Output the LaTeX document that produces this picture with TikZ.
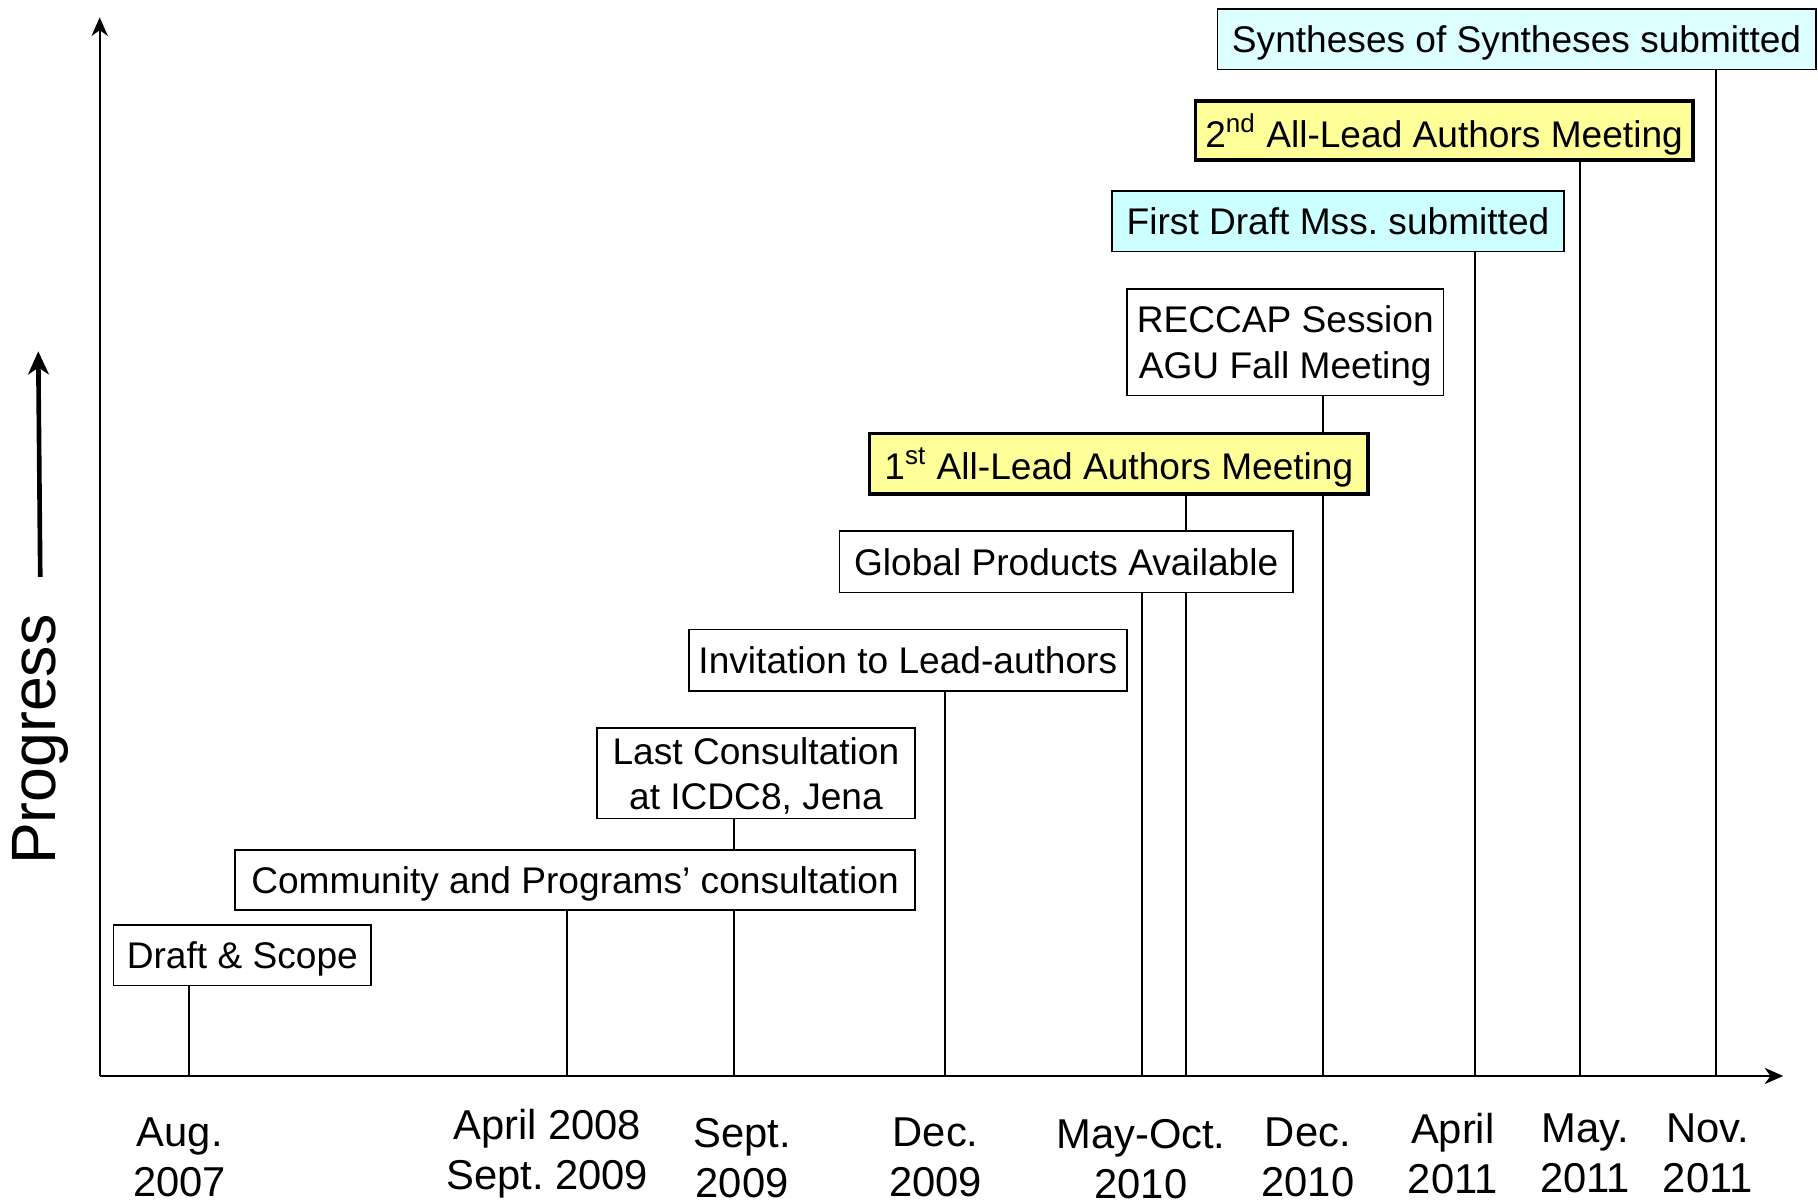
\documentclass[tikz,border=0pt]{standalone}
\usepackage{fontspec}
\setmainfont{Liberation Sans}
\usetikzlibrary{arrows.meta}
\frenchspacing
\definecolor{meetfill}{HTML}{FFFF99}
\definecolor{subfill}{HTML}{CCFFFF}
\definecolor{synfill}{HTML}{DDFFFF}
\tikzset{
  event/.style={draw, line width=0.75pt, fill=white, inner sep=0pt, align=center,
    text depth=0pt, font=\fontsize{16}{19.5}\selectfont},
  meeting/.style={event, fill=meetfill, line width=1.6pt},
  submitted/.style={event, fill=subfill},
  datelabel/.style={align=center, inner sep=0pt, font=\fontsize{18}{21.5}\selectfont},
  tick/.style={line width=0.75pt},
  axis/.style={line width=1pt, -{Stealth[length=8pt,width=7pt,inset=2.5pt]}},
}

\begin{document}
\begin{tikzpicture}[x=0.5pt,y=-0.5pt]
  %%%%% START %%%%%
  \useasboundingbox (0,0) rectangle (1568,1038);

  % axes
  \coordinate (o) at (86,928);
  \coordinate (ytop) at (86,15);
  \coordinate (xend) at (1538,928);
  \draw[axis] (o) -- (ytop);
  \draw[axis] (o) -- (xend);

  \node[rotate=90, inner sep=0pt, font=\fontsize{27}{30}\selectfont] (prog) at (35,638) {Progress};
  \coordinate (progtip) at (33,303);
  \draw[line width=2pt, -{Stealth[length=10pt,width=9pt,inset=3pt]}, shorten <=16pt] (prog.east) -- (progtip);

  % tick positions on the time axis
  \coordinate (a1) at (163,928);
  \coordinate (a2) at (489,928);
  \coordinate (a3) at (633,928);
  \coordinate (a4) at (815,928);
  \coordinate (a5) at (985,928);
  \coordinate (a6) at (1023,928);
  \coordinate (a7) at (1141,928);
  \coordinate (a8) at (1272,928);
  \coordinate (a9) at (1363,928);
  \coordinate (a10) at (1480,928);

  % events
  \node[event, minimum width=111pt, minimum height=26pt] (draft) at (209,824) {Draft \& Scope};
  \node[event, minimum width=293pt, minimum height=26pt] (community) at (496,759) {Community and Programs’ consultation};
  \node[event, minimum width=137pt, minimum height=39pt] (lastcons) at (652,667) {Last Consultation\\ at ICDC8, Jena};
  \node[event, minimum width=189pt, minimum height=26.5pt] (invite) at (783,569.5) {Invitation to Lead-authors};
  \node[event, minimum width=195.5pt, minimum height=26.5pt] (global) at (919.5,484.5) {Global Products Available};
  \node[meeting, minimum width=215pt, minimum height=26pt] (firstmeet) at (965,400) {1\textsuperscript{st} All-Lead Authors Meeting};
  \node[event, minimum width=136.5pt, minimum height=46pt] (reccap) at (1108.5,295) {RECCAP Session\\ AGU Fall Meeting};
  \node[submitted, minimum width=195pt, minimum height=26pt] (firstdraft) at (1154,191) {First Draft Mss. submitted};
  \node[meeting, minimum width=214.5pt, minimum height=25.5pt] (secondmeet) at (1245.5,112.5) {2\textsuperscript{nd} All-Lead Authors Meeting};
  \node[submitted, fill=synfill, minimum width=258pt, minimum height=26pt] (synth) at (1308,34) {Syntheses of Syntheses submitted};

  % drop lines
  \draw[tick] (a1 |- draft.south) -- (a1);
  \draw[tick] (a2 |- community.south) -- (a2);
  \draw[tick] (a3 |- lastcons.south) -- (a3 |- community.north);
  \draw[tick] (a3 |- community.south) -- (a3);
  \draw[tick] (a4 |- invite.south) -- (a4);
  \draw[tick] (a5 |- global.south) -- (a5);
  \draw[tick] (a6 |- firstmeet.south) -- (a6 |- global.north);
  \draw[tick] (a6 |- global.south) -- (a6);
  \draw[tick] (a7 |- reccap.south) -- (a7 |- firstmeet.north);
  \draw[tick] (a7 |- firstmeet.south) -- (a7);
  \draw[tick] (a8 |- firstdraft.south) -- (a8);
  \draw[tick] (a9 |- secondmeet.south) -- (a9);
  \draw[tick] (a10 |- synth.south) -- (a10);

  % dates
  \node[datelabel] (d1) at (155,998.5) {Aug.\\ 2007};
  \node[datelabel] (d2) at (472,995) {April 2008\\ Sept. 2009};
  \node[datelabel] (d3) at (640,998.5) {Sept.\\ 2009};
  \node[datelabel] (d4) at (807,998.5) {Dec.\\ 2009};
  \node[datelabel] (d5) at (984,999.5) {May-Oct.\\ 2010};
  \node[datelabel] (d6) at (1128,998.5) {Dec.\\ 2010};
  \node[datelabel] (d7) at (1253,995) {April\\ 2011};
  \node[datelabel] (d8) at (1367,995) {May.\\ 2011};
  \node[datelabel] (d9) at (1473,995) {Nov.\\ 2011};
  %%%%% END %%%%%
\end{tikzpicture}
\end{document}
